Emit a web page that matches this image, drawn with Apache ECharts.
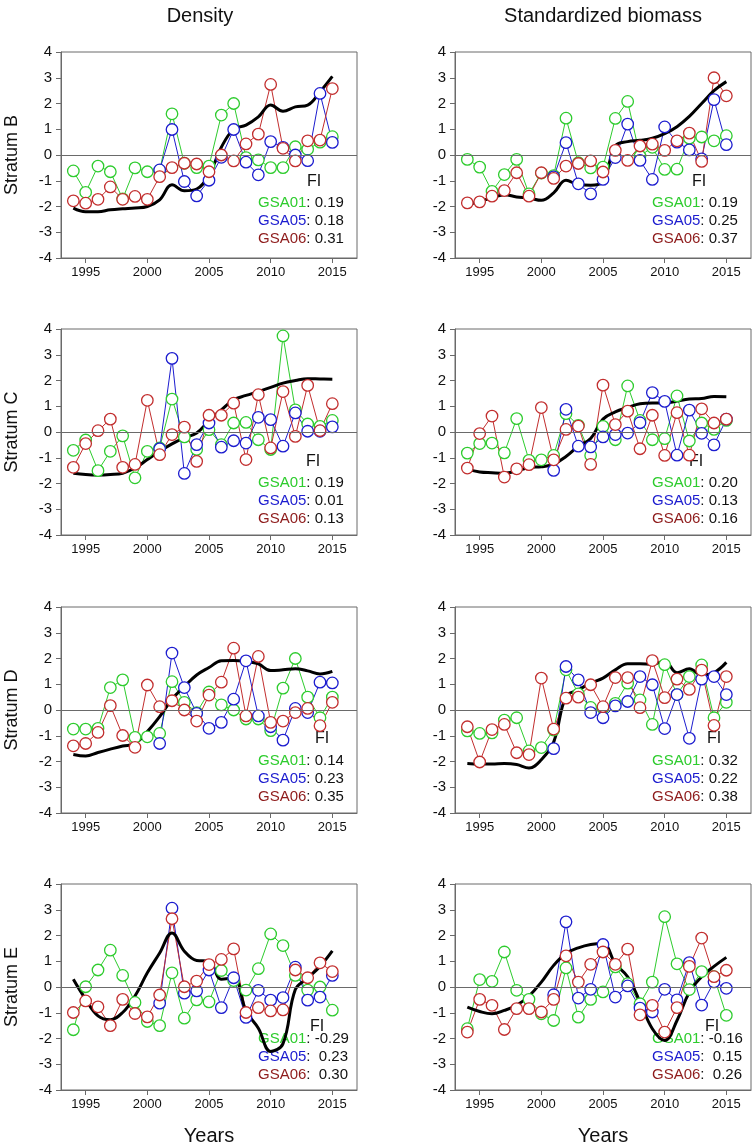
<!DOCTYPE html>
<html><head><meta charset="utf-8">
<script src="https://cdn.jsdelivr.net/npm/echarts@6/dist/echarts.min.js"></script>
<style>html,body{margin:0;padding:0;background:#fff}#c{width:754px;height:1147px}</style>
</head><body><div id="c"></div>
<script>
// ---------- data ----------
const years = [1994,1995,1996,1997,1998,1999,2000,2001,2002,2003,2004,2005,2006,2007,2008,2009,2010,2011,2012,2013,2014,2015];
const blueYears = [2001,2002,2003,2004,2005,2006,2007,2008,2009,2010,2011,2012,2013,2014,2015];
const xTicks = [1995,2000,2005,2010,2015];
const columnTitles = ['Density','Standardized biomass'];
const strata = ['Stratum B','Stratum C','Stratum D','Stratum E'];
const gsaNames = ['GSA01','GSA05','GSA06'];
const xTitle = 'Years';
const fiTitle = 'FI';

// Stratum B
const bDenG = [-0.62,-1.45,-0.43,-0.65,-1.7,-0.5,-0.65,-0.6,1.6,-0.32,-0.49,-0.43,1.55,2.0,-0.1,-0.19,-0.49,-0.49,0.32,0.22,0.5,0.71];
const bDenB = [-0.58,0.99,-1.03,-1.59,-0.98,-0.09,0.99,-0.28,-0.77,0.52,0.3,0.0,-0.22,2.39,0.49];
const bDenR = [-1.78,-1.87,-1.72,-1.24,-1.72,-1.61,-1.72,-0.84,-0.49,-0.32,-0.35,-0.65,0.0,-0.23,0.43,0.81,2.74,0.26,-0.23,0.55,0.58,2.58];
const bDenK = [-2.06,-2.2,-2.2,-2.13,-2.09,-2.06,-2.0,-1.74,-1.16,-1.39,-1.32,-0.77,0.3,1.0,1.16,1.48,1.94,1.7,1.87,1.94,2.45,3.05];
const bBioG = [-0.17,-0.47,-1.41,-0.76,-0.17,-1.51,-0.7,-0.8,1.43,-0.3,-0.5,-0.47,1.42,2.08,-0.04,0.3,-0.56,-0.55,0.65,0.7,0.55,0.75];
const bBioB = [-0.85,0.48,-1.12,-1.51,-0.95,-0.1,1.2,-0.21,-0.95,1.09,0.5,0.2,-0.15,2.15,0.4];
const bBioR = [-1.86,-1.82,-1.6,-1.38,-0.69,-1.6,-0.69,-0.91,-0.43,-0.33,-0.23,-0.66,0.18,-0.21,0.35,0.42,0.18,0.55,0.85,-0.25,3.0,2.3];
const bBioK = [-1.93,-1.8,-1.67,-1.54,-1.63,-1.67,-1.76,-1.47,-0.98,-1.15,-1.17,-1.02,0.35,0.52,0.57,0.65,0.83,1.1,1.5,2.0,2.5,2.85];
// Stratum C
const cDenG = [-0.71,-0.31,-1.5,-0.75,-0.15,-1.78,-0.75,-0.62,1.28,-0.19,-0.68,0.09,-0.49,0.35,0.37,-0.3,-0.68,3.73,0.86,0.31,0.22,0.45];
const cDenB = [-0.65,2.86,-1.61,-0.49,0.35,-0.59,-0.34,-0.43,0.57,0.48,-0.55,0.74,0.03,0.03,0.2];
const cDenR = [-1.37,-0.45,0.05,0.5,-1.37,-1.26,1.23,-0.88,-0.1,0.19,-1.14,0.65,0.65,1.12,-1.07,1.45,-0.62,1.57,-0.17,1.81,0.05,1.1];
const cDenK = [-1.6,-1.65,-1.67,-1.65,-1.6,-1.4,-1.07,-0.75,-0.46,-0.23,-0.04,0.44,0.86,1.25,1.42,1.57,1.73,1.9,2.0,2.07,2.06,2.05];
const cBioG = [-0.82,-0.45,-0.43,-0.81,0.52,-1.1,-1.08,-0.91,0.71,0.26,-0.91,0.22,-0.3,1.79,0.45,-0.3,-0.26,1.4,-0.35,0.35,0.1,0.45];
const cBioB = [-1.49,0.88,-0.55,-0.58,-0.19,-0.1,-0.04,0.36,1.53,1.19,-0.9,0.85,-0.05,-0.5,0.5];
const cBioR = [-1.4,-0.06,0.62,-1.75,-1.43,-1.27,0.95,-1.08,0.1,0.23,-1.26,1.82,0.29,0.81,-0.65,0.65,-0.91,0.75,-0.9,0.9,0.35,0.5];
const cBioK = [-1.45,-1.55,-1.58,-1.6,-1.52,-1.38,-1.35,-1.25,-0.95,-0.55,-0.25,0.5,0.78,0.95,1.1,1.13,1.12,1.2,1.28,1.3,1.38,1.37];
// Stratum D
const dDenG = [-0.74,-0.74,-0.71,0.87,1.17,-1.06,-1.04,-0.91,1.1,0.3,-0.1,0.7,0.2,0.0,-0.35,-0.35,-0.8,0.85,2.0,0.5,-0.3,0.5];
const dDenB = [-1.3,2.21,0.87,-0.13,-0.71,-0.48,0.42,1.91,-0.23,-0.65,-1.17,0.06,-0.1,1.08,1.05];
const dDenR = [-1.39,-1.3,-0.87,0.17,-0.99,-1.45,0.97,0.13,0.36,0.0,-0.43,0.58,1.08,2.4,-0.23,2.08,-0.48,-0.43,-0.1,0.06,-0.61,0.3];
const dDenK = [-1.73,-1.79,-1.65,-1.52,-1.4,-1.3,-0.84,-0.26,0.42,0.91,1.36,1.65,1.91,1.92,1.88,1.79,1.53,1.56,1.6,1.52,1.4,1.5];
const dBioG = [-0.81,-0.91,-0.89,-0.39,-0.3,-1.59,-1.46,-0.78,1.56,0.63,0.1,0.07,0.26,1.04,0.39,-0.56,1.76,0.6,1.3,1.75,-0.3,0.3];
const dBioB = [-1.5,1.69,1.17,-0.1,-0.3,0.16,0.33,1.3,0.98,-0.72,0.6,-1.1,1.2,1.3,0.6];
const dBioR = [-0.65,-2.02,-0.76,-0.56,-1.66,-1.73,1.24,-0.74,0.46,0.5,0.98,0.13,1.26,1.26,0.09,1.92,0.48,1.2,0.8,1.55,-0.6,1.3];
const dBioK = [-2.08,-2.1,-2.1,-2.08,-2.12,-2.25,-1.93,-1.24,0.52,0.78,1.04,1.24,1.56,1.8,1.8,1.78,1.89,1.45,1.6,1.35,1.45,1.85];
// Stratum E
const eDenG = [-1.66,0.01,0.66,1.43,0.45,-0.6,-1.34,-1.5,0.55,-1.21,-0.5,-0.58,0.64,0.25,-0.12,0.71,2.06,1.61,0.45,-0.12,0.0,-0.9];
const eDenB = [-0.63,3.06,-0.24,-0.15,0.66,-0.8,0.36,-1.18,-0.13,-0.51,-0.41,0.77,-0.51,-0.39,0.45];
const eDenR = [-0.99,-0.54,-0.77,-1.5,-0.48,-1.03,-1.16,-0.31,2.65,0.01,0.23,0.87,1.07,1.48,-0.99,-0.8,-0.93,-0.89,0.66,0.36,0.94,0.6];
const eDenK = [0.3,-0.48,-1.12,-1.27,-0.99,-0.35,0.55,1.32,2.1,1.39,1.03,1.0,0.3,0.35,-0.93,-1.6,-2.5,-2.2,-0.1,0.35,0.8,1.4];
const eBioG = [-1.62,0.29,0.22,1.36,-0.13,-0.48,-1.04,-1.3,0.74,-1.17,-0.48,-0.19,0.78,0.13,-0.65,0.19,2.73,0.9,-0.1,0.6,0.4,-1.1];
const eBioB = [-0.3,2.53,-0.43,-0.09,1.65,-0.39,0.04,-0.82,-0.97,-0.09,-0.5,0.95,-0.7,0.2,-0.05];
const eBioR = [-1.75,-0.48,-0.71,-1.65,-0.84,-0.84,-0.97,-0.48,1.21,0.19,0.88,1.36,0.88,1.47,-1.08,-0.71,-1.75,-0.8,0.8,1.9,0.4,0.65];
const eBioK = [-0.78,-0.95,-1.04,-0.91,-0.71,-0.35,0.19,0.84,1.3,1.52,1.65,1.69,0.9,0.4,-0.58,-1.62,-2.08,-1.3,-0.2,0.4,0.8,1.15];

// FI values (GSA01, GSA05, GSA06)
const fiBDen = ['0.19','0.18','0.31'];
const fiBBio = ['0.19','0.25','0.37'];
const fiCDen = ['0.19','0.01','0.13'];
const fiCBio = ['0.20','0.13','0.16'];
const fiDDen = ['0.14','0.23','0.35'];
const fiDBio = ['0.32','0.22','0.38'];
const fiEDen = ['-0.29',' 0.23',' 0.30'];
const fiEBio = ['-0.16',' 0.15',' 0.26'];

// ---------- layout / style ----------
const FONT = '"Liberation Sans", Arial, sans-serif';
const seriesColors = ['#2ecc2e', '#1c1ccf', '#c22e2e'];
const labelColors = ['#2ecc2e', '#1c1ccf', '#8e1b1b'];
const colLeft = [61, 455];
const colWidth = [296, 296];
const rowTop = [52, 329, 607, 884];
const rowHeight = 206;
const fiLayout = [
  [253,130,197,151,18],[244,130,197,151,18],
  [252,133,197,154,18],[241,133,197,154,18],
  [261,132,197,154,18],[259,132,197,154,18],
  [256,143,197,155,18],[257,143,197,155,18]
];

const panels = [
  {g:bDenG,b:bDenB,r:bDenR,k:bDenK,fi:fiBDen},
  {g:bBioG,b:bBioB,r:bBioR,k:bBioK,fi:fiBBio},
  {g:cDenG,b:cDenB,r:cDenR,k:cDenK,fi:fiCDen},
  {g:cBioG,b:cBioB,r:cBioR,k:cBioK,fi:fiCBio},
  {g:dDenG,b:dDenB,r:dDenR,k:dDenK,fi:fiDDen},
  {g:dBioG,b:dBioB,r:dBioR,k:dBioK,fi:fiDBio},
  {g:eDenG,b:eDenB,r:eDenR,k:eDenK,fi:fiEDen},
  {g:eBioG,b:eBioB,r:eBioR,k:eBioK,fi:fiEBio}
];

const pairs = (xs, ys) => xs.map((x, i) => [x, ys[i]]);

const option = {
  animation: false,
  backgroundColor: '#fff',
  grid: [], xAxis: [], yAxis: [], series: [], graphic: []
};

const axisGray = '#6a6a6a';

panels.forEach((p, idx) => {
  const row = Math.floor(idx / 2), col = idx % 2;
  const L = colLeft[col], T = rowTop[row];
  option.grid.push({left: L, top: T, width: colWidth[col], height: rowHeight,
    show: true, borderColor: axisGray, borderWidth: 1, backgroundColor: 'transparent'});
  option.xAxis.push({
    gridIndex: idx, type: 'value', min: 1993, max: 2017,
    splitLine: {show: false},
    axisLine: {show: true, onZero: false, lineStyle: {color: axisGray, width: 1}},
    axisTick: {show: true, customValues: xTicks, length: 5, lineStyle: {color: axisGray}},
    axisLabel: {customValues: xTicks, formatter: v => String(v), color: '#111', fontSize: 13, fontFamily: FONT, margin: 8},
    name: row === 3 ? xTitle : '', nameLocation: 'middle', nameGap: 36,
    nameTextStyle: {fontSize: 20, color: '#111', fontFamily: FONT}
  });
  option.yAxis.push({
    gridIndex: idx, type: 'value', min: -4, max: 4, interval: 1,
    splitLine: {show: false},
    axisLine: {show: true, lineStyle: {color: axisGray, width: 1}},
    axisTick: {show: true, length: 5, lineStyle: {color: axisGray}},
    axisLabel: {color: '#111', fontSize: 15, fontFamily: FONT, margin: 9},
    name: col === 0 ? strata[row] : '', nameLocation: 'middle', nameGap: 40, nameRotate: 90,
    nameTextStyle: {fontSize: 18, color: '#111', fontFamily: FONT}
  });
  // zero line
  option.series.push({
    type: 'line', xAxisIndex: idx, yAxisIndex: idx, data: [], silent: true,
    markLine: {silent: true, symbol: 'none', label: {show: false},
      lineStyle: {color: axisGray, width: 1, type: 'solid'}, data: [{yAxis: 0}]}
  });
  const sets = [pairs(years, p.g), pairs(blueYears, p.b), pairs(years, p.r)];
  sets.forEach((d, si) => {
    option.series.push({
      type: 'line', xAxisIndex: idx, yAxisIndex: idx, data: d, silent: true,
      symbol: 'circle', symbolSize: 11.5,
      lineStyle: {color: seriesColors[si], width: 1},
      itemStyle: {color: '#fff', borderColor: seriesColors[si], borderWidth: 1.3}
    });
  });
  option.series.push({
    type: 'line', xAxisIndex: idx, yAxisIndex: idx, data: pairs(years, p.k), silent: true,
    symbol: 'none', smooth: 0.4, lineStyle: {color: '#000', width: 3}
  });
  // FI annotation
  const f = fiLayout[idx];
  option.graphic.push({type: 'text', x: L + f[0], y: T + f[1], silent: true,
    style: {text: fiTitle, font: '16px ' + FONT, fill: '#111', align: 'center', verticalAlign: 'middle'}});
  gsaNames.forEach((nm, gi) => {
    option.graphic.push({type: 'text', x: L + f[2], y: T + f[3] + gi * f[4], silent: true,
      style: {text: '{n|' + nm + '}: ' + p.fi[gi], font: '15px ' + FONT, fill: '#111',
        align: 'left', verticalAlign: 'middle',
        rich: {n: {fill: labelColors[gi], fontSize: 15, fontFamily: FONT}}}});
  });
});

// column titles
option.graphic.push({type: 'text', x: 200, y: 16, silent: true,
  style: {text: columnTitles[0], font: '20px ' + FONT, fill: '#111', align: 'center', verticalAlign: 'middle'}});
option.graphic.push({type: 'text', x: 603, y: 16, silent: true,
  style: {text: columnTitles[1], font: '20px ' + FONT, fill: '#111', align: 'center', verticalAlign: 'middle'}});

const chart = echarts.init(document.getElementById('c'));
chart.setOption(option);
</script>
</body></html>
